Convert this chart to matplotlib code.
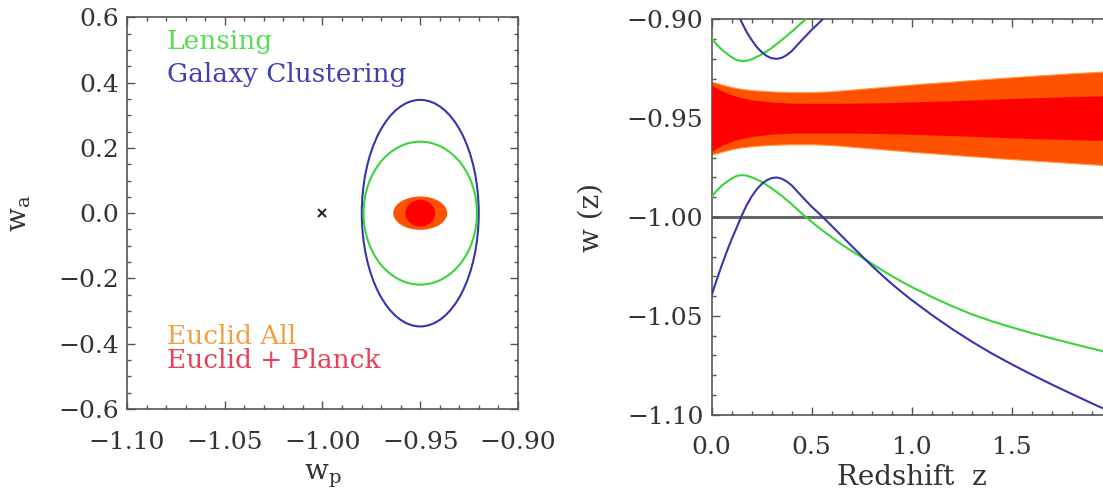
import matplotlib
matplotlib.use("Agg")
import matplotlib.pyplot as plt
from matplotlib.patches import Ellipse
from matplotlib.ticker import MultipleLocator

plt.rcParams['font.family'] = ['DejaVu Serif']
plt.rcParams['mathtext.fontset'] = 'dejavuserif'

# ---------------- Left panel data (w_p, w_a) ----------------
center_wp = -0.95
center_wa = 0.0
fiducial_wp = [-1.0]
fiducial_wa = [0.0]
# ellipse half-widths (w_p) and half-heights (w_a)
ell_names = ["Galaxy Clustering", "Lensing", "Euclid All", "Euclid + Planck"]
ell_half_wp = [0.0299, 0.0290, 0.0138, 0.0076]
ell_half_wa = [0.347, 0.219, 0.051, 0.041]

# ---------------- Right panel data (w(z)) ----------------
band_z = [0.0, 0.025, 0.05, 0.1, 0.15, 0.2, 0.3, 0.4, 0.5, 0.6, 0.8, 1.0, 1.2, 1.4, 1.6, 1.8, 2.0]
orange_hi = [-0.9316, -0.9322, -0.9330, -0.9343, -0.9352, -0.9358, -0.9365, -0.9368, -0.9368, -0.9364,
             -0.9347, -0.9330, -0.9315, -0.9300, -0.9286, -0.9273, -0.9262]
orange_lo = [-0.9683, -0.9677, -0.9670, -0.9657, -0.9648, -0.9642, -0.9635, -0.9632, -0.9632, -0.9636,
             -0.9653, -0.9670, -0.9685, -0.9700, -0.9714, -0.9727, -0.9740]
red_hi = [-0.9332, -0.9348, -0.9362, -0.9382, -0.9397, -0.9407, -0.9419, -0.9424, -0.9425, -0.9425,
          -0.9423, -0.9418, -0.9412, -0.9404, -0.9397, -0.9391, -0.9386]
red_lo = [-0.9668, -0.9652, -0.9638, -0.9618, -0.9603, -0.9593, -0.9581, -0.9576, -0.9575, -0.9575,
          -0.9577, -0.9582, -0.9588, -0.9596, -0.9603, -0.9609, -0.9614]

lens_hi_z = [0.0, 0.025, 0.05, 0.075, 0.10, 0.125, 0.15, 0.175, 0.20, 0.25, 0.30, 0.35, 0.40, 0.45, 0.50]
lens_hi_w = [-0.9096, -0.9128, -0.9153, -0.9173, -0.9192, -0.9206, -0.9212, -0.9210, -0.9202, -0.9178,
             -0.9145, -0.9105, -0.9063, -0.9017, -0.8975]

lens_lo_z = [0.0, 0.025, 0.05, 0.075, 0.10, 0.125, 0.15, 0.175, 0.20, 0.25, 0.30, 0.35, 0.40, 0.45,
             0.50, 0.55, 0.60, 0.65, 0.70, 0.75, 0.80, 0.85, 0.90, 0.95, 1.00, 1.1, 1.2, 1.3, 1.4,
             1.5, 1.6, 1.7, 1.8, 1.9, 2.0]
lens_lo_w = [-0.9897, -0.9867, -0.9842, -0.9822, -0.9805, -0.9792, -0.9788, -0.9791, -0.9799, -0.9822,
             -0.9855, -0.9893, -0.9935, -0.9982, -1.0025, -1.0065, -1.0103, -1.0139, -1.0172, -1.0203,
             -1.0236, -1.0268, -1.0298, -1.0327, -1.0354, -1.0404, -1.0450, -1.0492, -1.0527, -1.0558,
             -1.0587, -1.0614, -1.0640, -1.0665, -1.0690]

gc_hi_z = [0.125, 0.15, 0.175, 0.20, 0.225, 0.25, 0.275, 0.30, 0.325, 0.35, 0.375, 0.40, 0.45, 0.50, 0.55, 0.60]
gc_hi_w = [-0.8960, -0.9015, -0.9065, -0.9105, -0.9140, -0.9166, -0.9186, -0.9197, -0.9200, -0.9195,
           -0.9181, -0.9161, -0.9106, -0.9053, -0.9005, -0.8955]

gc_lo_z = [0.0, 0.025, 0.05, 0.075, 0.10, 0.125, 0.15, 0.175, 0.20, 0.225, 0.25, 0.275, 0.30, 0.325,
           0.35, 0.375, 0.40, 0.45, 0.50, 0.55, 0.60, 0.65, 0.70, 0.75, 0.80, 0.85, 0.90, 0.95, 1.00,
           1.1, 1.2, 1.3, 1.4, 1.5, 1.6, 1.7, 1.8, 1.9, 2.0]
gc_lo_w = [-1.0394, -1.0318, -1.0245, -1.0176, -1.0112, -1.0053, -0.9993, -0.9940, -0.9896, -0.9860,
           -0.9833, -0.9814, -0.9803, -0.9800, -0.9806, -0.9820, -0.9840, -0.9895, -0.9948, -0.9995,
           -1.0045, -1.0096, -1.0147, -1.0197, -1.0246, -1.0293, -1.0338, -1.0380, -1.0420, -1.0495,
           -1.0565, -1.0630, -1.0690, -1.0745, -1.0797, -1.0847, -1.0895, -1.0942, -1.0988]

ref_w = -1.0

GREEN = '#3ad43a'
BLUE = '#3535b0'
ORANGE = '#ff5200'
RED = '#ff0000'
SPINE = '#555555'
TXT = '#333333'

W, H = 1103, 490
fig = plt.figure(figsize=(W / 100, H / 100), dpi=100)

def style_axes(ax):
    for s in ax.spines.values():
        s.set_color(SPINE)
        s.set_linewidth(1.2)
    ax.tick_params(which='both', direction='in', top=True, right=True, colors=SPINE,
                   labelcolor=TXT, labelsize=18)
    ax.tick_params(which='major', length=6, width=1.0)
    ax.tick_params(which='minor', length=3, width=1.0)
    ax.tick_params(axis='x', which='both', pad=15.5)
    ax.tick_params(axis='y', which='both', pad=6)

# ---------------- Left panel ----------------
ax1 = fig.add_axes([127 / W, 1 - 409 / H, (518 - 127) / W, (409 - 17.3) / H])
colors_ell = [BLUE, GREEN, ORANGE, RED]
for name, hw, hh, c in zip(ell_names, ell_half_wp, ell_half_wa, colors_ell):
    if name in ("Euclid All", "Euclid + Planck"):
        e = Ellipse((center_wp, center_wa), 2 * hw, 2 * hh, facecolor=c, edgecolor='none', zorder=3)
    else:
        e = Ellipse((center_wp, center_wa), 2 * hw, 2 * hh, facecolor='none', edgecolor=c, lw=1.5, zorder=2)
    ax1.add_patch(e)
ax1.plot(fiducial_wp, fiducial_wa, marker='x', color='#222222', markersize=6, mew=1.4, ls='none')
ax1.set_xlim(-1.10, -0.90)
ax1.set_ylim(-0.6, 0.6)
ax1.xaxis.set_major_locator(MultipleLocator(0.05))
ax1.xaxis.set_minor_locator(MultipleLocator(0.01))
ax1.yaxis.set_major_locator(MultipleLocator(0.2))
ax1.yaxis.set_minor_locator(MultipleLocator(0.05))
ax1.xaxis.set_major_formatter(plt.FuncFormatter(lambda v, p: f"{v:.2f}".replace('-', '\u2212')))
ax1.yaxis.set_major_formatter(plt.FuncFormatter(lambda v, p: f"{v:.1f}".replace('-', '\u2212') if abs(v) > 1e-9 else "0.0"))
style_axes(ax1)
ax1.set_xlabel(r'$\mathrm{w_p}$', fontsize=20, color=TXT)
ax1.set_ylabel(r'$\mathrm{w_a}$', fontsize=20, color=TXT)
ax1.xaxis.set_label_coords(0.5, -0.172)
ax1.xaxis.label.set_va('center')
ax1.yaxis.set_label_coords(-0.275, 0.5)
ax1.yaxis.label.set_va('center')

ax1.text(0.1015, 0.938, "Lensing", transform=ax1.transAxes, color='#55dd55', fontsize=19, va='center')
ax1.text(0.1015, 0.853, "Galaxy Clustering", transform=ax1.transAxes, color='#4040b0', fontsize=19, va='center')
ax1.text(0.1015, 0.185, "Euclid All", transform=ax1.transAxes, color='#f0a040', fontsize=19, va='center')
ax1.text(0.1015, 0.125, "Euclid + Planck", transform=ax1.transAxes, color='#e6405a', fontsize=19, va='center')

# ---------------- Right panel ----------------
ax2 = fig.add_axes([711.7 / W, 1 - 414.7 / H, 400 / W, (414.7 - 19.3) / H])
ax2.fill_between(band_z, orange_lo, orange_hi, color=ORANGE, lw=0.8, edgecolor='#ff9a40', zorder=2)
ax2.fill_between(band_z, red_lo, red_hi, color=RED, lw=0, zorder=3)
ax2.axhline(ref_w, color='#666666', lw=2.2, zorder=1)
ax2.plot(lens_hi_z, lens_hi_w, color=GREEN, lw=1.5, zorder=4)
ax2.plot(lens_lo_z, lens_lo_w, color=GREEN, lw=1.5, zorder=4)
ax2.plot(gc_hi_z, gc_hi_w, color=BLUE, lw=1.5, zorder=5)
ax2.plot(gc_lo_z, gc_lo_w, color=BLUE, lw=1.5, zorder=5)
ax2.set_xlim(0, 2.0)
ax2.set_ylim(-1.10, -0.90)
ax2.xaxis.set_major_locator(MultipleLocator(0.5))
ax2.xaxis.set_minor_locator(MultipleLocator(0.1))
ax2.yaxis.set_major_locator(MultipleLocator(0.05))
ax2.yaxis.set_minor_locator(MultipleLocator(0.01))
# the reference image is cropped just before the 2.0 label
ax2.xaxis.set_major_formatter(plt.FuncFormatter(lambda v, p: f"{v:.1f}" if v < 1.9 else ""))
ax2.yaxis.set_major_formatter(plt.FuncFormatter(lambda v, p: f"{v:.2f}".replace('-', '\u2212')))
style_axes(ax2)
ax2.set_xlabel("Redshift  z", fontsize=20, color=TXT)
ax2.set_ylabel("w (z)", fontsize=20, color=TXT)
ax2.xaxis.set_label_coords(0.5, -0.16)
ax2.xaxis.label.set_va('center')
ax2.yaxis.set_label_coords(-0.302, 0.5)
ax2.yaxis.label.set_va('center')

fig.savefig("out.png", dpi=100)
